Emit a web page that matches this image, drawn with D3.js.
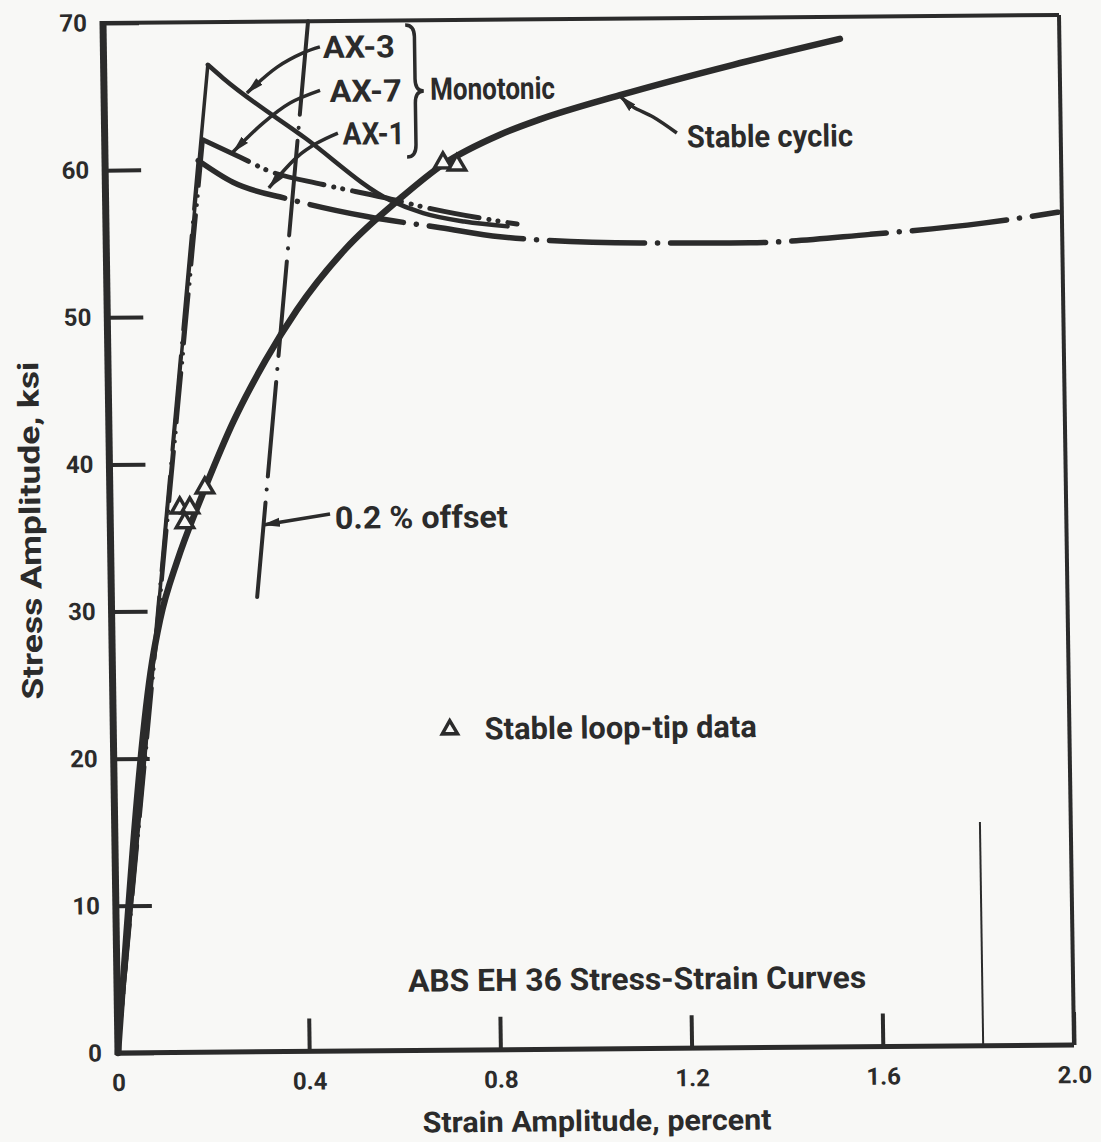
<!DOCTYPE html>
<html>
<head>
<meta charset="utf-8">
<script src="https://cdn.jsdelivr.net/npm/d3@7"></script>
<style>
  body { margin: 0; background: #f8f8f6; }
  svg { display: block; }
  text { font-family: Roboto, 'DejaVu Sans', sans-serif; font-weight: 700; fill: #2b2b2b; }
</style>
</head>
<body>
<script>
// axis ticks
var xTicks = [0, 0.4, 0.8, 1.2, 1.6, 2.0];
var yTicks = [0, 10, 20, 30, 40, 50, 60, 70];

// [strain %, stress ksi]
var stableCyclic = [[0, 0], [0.083, 26.5], [0.101, 29.4], [0.14, 33.5], [0.182, 37.0], [0.20, 38.4],
                    [0.26, 42.8], [0.33, 47.0], [0.397, 50.4], [0.50, 54.5], [0.616, 57.9], [0.707, 60.2],
                    [0.828, 62.2], [0.911, 63.2], [1.079, 64.8], [1.317, 66.8], [1.541, 68.5]];

var ax3Elastic = [[0, 0], [0.218, 67.1]];
var ax7Elastic = [[0, 0], [0.206, 62.0]];
var ax1Elastic = [[0, 0], [0.195, 60.6]];

var ax3 = [[0.218, 67.1], [0.249, 66.2], [0.42, 62.05], [0.595, 57.8], [0.664, 56.9], [0.75, 56.3], [0.84, 55.95]];
var ax7 = [[0.206, 62.0], [0.283, 60.8], [0.339, 59.9], [0.455, 58.9], [0.58, 58.0], [0.68, 57.2], [0.86, 56.1]];
var ax1 = [[0.195, 60.6], [0.267, 59.1], [0.386, 57.9], [0.546, 56.7], [0.70, 55.9], [0.824, 55.25],
           [1.117, 54.75], [1.347, 54.7], [1.598, 55.2], [1.835, 55.9], [1.992, 56.6]];

var offsetLine = [[0.305, 30.9], [0.429, 70]];

var loopTips = [[0.146, 37.0], [0.167, 37.0], [0.156, 36.0], [0.199, 38.35], [0.707, 60.3], [0.736, 60.15]];

// stray mark on the scan near 1.8
var strayMark = [[1.81, 0], [1.81, 15.2]];

var plot = { w: 956, h: 1030 };
var ink = '#2b2b2b';
var paper = '#f8f8f6';

var svg = d3.select('body')
            .append('svg')
            .attr('width', 1101)
            .attr('height', 1142);

// the scanned figure is a little skewed, so the chart frame is sheared into place
var g = svg.append('g')
           .attr('transform', 'matrix(1,-0.00837,0.01456,1,103,23)');

var x = d3.scaleLinear().domain([0, 2]).range([0, plot.w]);
var y = d3.scaleLinear().domain([0, 70]).range([plot.h, 0]);

var line = d3.line()
             .x(function(d){ return x(d[0]); })
             .y(function(d){ return y(d[1]); });

var smooth = d3.line()
               .x(function(d){ return x(d[0]); })
               .y(function(d){ return y(d[1]); })
               .curve(d3.curveMonotoneX);

var arrowLine = d3.line()
                  .x(function(d){ return x(d[0]); })
                  .y(function(d){ return y(d[1]); })
                  .curve(d3.curveCatmullRom);

svg.append('defs').append('marker')
   .attr('id', 'head')
   .attr('viewBox', '0 -5 18 10')
   .attr('refX', 17)
   .attr('refY', 0)
   .attr('markerWidth', 18)
   .attr('markerHeight', 10)
   .attr('markerUnits', 'userSpaceOnUse')
   .attr('orient', 'auto')
   .append('path')
   .attr('d', 'M0,-4.5L18,0L0,4.5Z')
   .attr('fill', ink);

// ticks
var xAxis = d3.axisBottom(x)
              .tickValues(xTicks)
              .tickSize(-33)
              .tickPadding(21)
              .tickFormat(function(d){ return d === 0 ? '0' : d3.format('.1f')(d); });

var yAxis = d3.axisLeft(y)
              .tickValues(yTicks)
              .tickSize(-36)
              .tickPadding(16);

var gx = g.append('g').attr('transform', 'translate(0,' + plot.h + ')').call(xAxis);
var gy = g.append('g').call(yAxis);

[gx, gy].forEach(function(a){
  a.select('.domain').remove();
  a.selectAll('line').attr('stroke', ink).attr('stroke-width', 4);
  a.selectAll('text')
   .attr('fill', ink)
   .style('font-size', '24px')
   .style('font-family', 'Roboto, sans-serif')
   .style('font-weight', 700);
});

// frame
g.append('line').attr('x1', x(0)).attr('y1', y(0)).attr('x2', x(2)).attr('y2', y(0))
 .attr('stroke', ink).attr('stroke-width', 5);
g.append('line').attr('x1', x(0)).attr('y1', y(70)).attr('x2', x(2)).attr('y2', y(70))
 .attr('stroke', ink).attr('stroke-width', 4);
g.append('line').attr('x1', x(2)).attr('y1', y(70)).attr('x2', x(2)).attr('y2', y(0))
 .attr('stroke', ink).attr('stroke-width', 4);
g.append('line').attr('x1', x(0)).attr('y1', y(70) - 2).attr('x2', x(0)).attr('y2', y(0) + 2)
 .attr('stroke', ink).attr('stroke-width', 7);

g.append('path').attr('d', line(strayMark))
 .attr('fill', 'none').attr('stroke', ink).attr('stroke-width', 2);

// curves
var curves = [
  { d: ax1Elastic, gen: line, w: 3.5, dash: '95 13 0.1 13' },
  { d: ax7Elastic, gen: line, w: 3.5, dash: '50 10 0.1 9 0.1 10' },
  { d: ax3Elastic, gen: line, w: 3.5, dash: null },
  { d: offsetLine, gen: line, w: 4, dash: '95 13 0.1 13' },
  { d: ax1, gen: smooth, w: 5.5, dash: '95 13 0.1 13' },
  { d: ax7, gen: smooth, w: 5, dash: '50 10 0.1 9 0.1 10' },
  { d: ax3, gen: smooth, w: 4.5, dash: null },
  { d: stableCyclic, gen: smooth, w: 6.5, dash: null }
];

g.selectAll('path.curve')
 .data(curves)
 .enter()
   .append('path')
   .attr('class', 'curve')
   .attr('d', function(c){ return c.gen(c.d); })
   .attr('fill', 'none')
   .attr('stroke', ink)
   .attr('stroke-width', function(c){ return c.w; })
   .attr('stroke-linecap', 'round')
   .attr('stroke-dasharray', function(c){ return c.dash; });

// loop-tip data
var tri = d3.symbol().type(d3.symbolTriangle).size(130);

g.selectAll('path.tip')
 .data(loopTips)
 .enter()
   .append('path')
   .attr('class', 'tip')
   .attr('d', tri)
   .attr('transform', function(d){ return 'translate(' + x(d[0]) + ',' + y(d[1]) + ')'; })
   .attr('fill', paper)
   .attr('stroke', ink)
   .attr('stroke-width', 3.5);

// annotations
var arrows = [
  [[0.453, 68.25], [0.4175, 67.85], [0.363, 66.9], [0.299, 65.16]],
  [[0.452, 65.3], [0.3888, 64.46], [0.3317, 63.11], [0.268, 61.16]],
  [[0.488, 62.39], [0.444, 61.72], [0.4017, 60.78], [0.342, 58.7]],
  [[1.197, 62.2], [1.148, 63.3], [1.106, 64.0], [1.079, 64.75]],
  [[0.460, 36.5], [0.3194, 35.8]]
];

g.selectAll('path.arrow')
 .data(arrows)
 .enter()
   .append('path')
   .attr('class', 'arrow')
   .attr('d', arrowLine)
   .attr('fill', 'none')
   .attr('stroke', ink)
   .attr('stroke-width', 3.5)
   .attr('marker-end', 'url(#head)');

var labels = [
  { t: 'AX-3', at: [0.459, 67.5], len: 72 },
  { t: 'AX-7', at: [0.472, 64.5], len: 72 },
  { t: 'AX-1', at: [0.498, 61.6], len: 62 },
  { t: 'Monotonic', at: [0.682, 64.6], len: 125 },
  { t: 'Stable cyclic', at: [1.218, 61.2], len: 166 },
  { t: '0.2 % offset', at: [0.470, 35.5], len: 173 },
  { t: 'Stable loop-tip data', at: [0.777, 21.1], len: 272 },
  { t: 'ABS EH 36 Stress-Strain Curves', at: [0.609, 4.0], len: 458 }
];

g.selectAll('text.note')
 .data(labels)
 .enter()
   .append('text')
   .attr('class', 'note')
   .attr('x', function(d){ return x(d.at[0]); })
   .attr('y', function(d){ return y(d.at[1]); })
   .attr('textLength', function(d){ return d.len; })
   .attr('lengthAdjust', 'spacingAndGlyphs')
   .style('font-size', '31px')
   .text(function(d){ return d.t; });

// legend triangle
g.append('path')
 .attr('d', d3.symbol().type(d3.symbolTriangle).size(100))
 .attr('transform', 'translate(' + x(0.704) + ',' + y(21.8) + ')')
 .attr('fill', paper)
 .attr('stroke', ink)
 .attr('stroke-width', 3.5);

// brace for the monotonic group
var bx = x(0.632), bm = x(0.651), bt = x(0.669);
var by0 = y(69.7), bym = y(65.2), by1 = y(60.72), r = 12;
g.append('path')
 .attr('d', 'M' + bx + ',' + by0 +
            'Q' + bm + ',' + by0 + ' ' + bm + ',' + (by0 + r) +
            'L' + bm + ',' + (bym - r) +
            'Q' + bm + ',' + bym + ' ' + bt + ',' + bym +
            'Q' + bm + ',' + bym + ' ' + bm + ',' + (bym + r) +
            'L' + bm + ',' + (by1 - r) +
            'Q' + bm + ',' + by1 + ' ' + bx + ',' + by1)
 .attr('fill', 'none')
 .attr('stroke', ink)
 .attr('stroke-width', 3.5);

// axis titles
g.append('text')
 .attr('x', plot.w / 2)
 .attr('y', plot.h + 82)
 .attr('text-anchor', 'middle')
 .attr('textLength', 349)
 .attr('lengthAdjust', 'spacingAndGlyphs')
 .style('font-size', '29px')
 .text('Strain Amplitude, percent');

g.append('text')
 .attr('transform', 'translate(-80,507) rotate(-90)')
 .attr('text-anchor', 'middle')
 .attr('dy', '0.35em')
 .attr('textLength', 338)
 .attr('lengthAdjust', 'spacingAndGlyphs')
 .style('font-size', '29px')
 .text('Stress Amplitude, ksi');
</script>
</body>
</html>
